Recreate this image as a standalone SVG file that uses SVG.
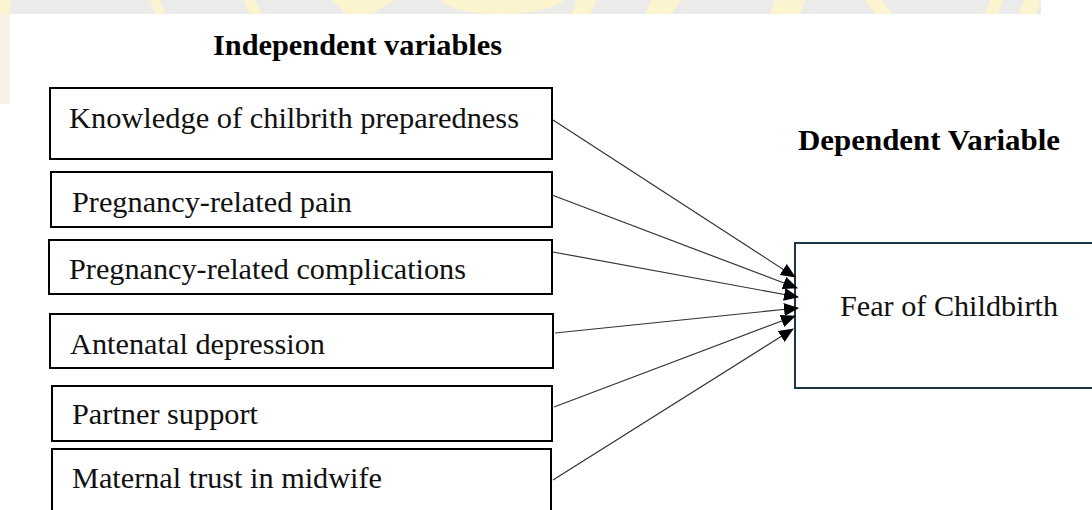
<svg xmlns="http://www.w3.org/2000/svg" width="1092" height="510" viewBox="0 0 1092 510">
<style>
.box{fill:#ffffff;stroke:#000000;stroke-width:2}
.dep{fill:#ffffff;stroke:#1e3545;stroke-width:2}
.t{font-family:'Liberation Serif','Times New Roman',Times,serif;font-size:30px;fill:#111111}
.h{font-family:'Liberation Serif','Times New Roman',Times,serif;font-size:29px;font-weight:bold;fill:#000000}
.c{stroke:#333333;stroke-width:1.2;fill:none;marker-end:url(#ah)}
.wm{fill:#fcf4cf}
</style>
<defs>
<marker id="ah" markerUnits="userSpaceOnUse" markerWidth="15" markerHeight="13" refX="14" refY="6.5" orient="auto">
<path d="M0,0 L15,6.5 L0,13 Z" fill="#000000"/>
</marker>
</defs>
<rect width="1092" height="510" fill="#ffffff"/>
<g id="watermark">
<rect x="0" y="0" width="1041" height="14" fill="#ebebea"/>
<rect x="0" y="14" width="10" height="90" fill="#f6f3e4"/>
<polygon class="wm" points="0,0 12,0 8,14 0,14"/>
<polygon class="wm" points="150,0 160,0 166,14 156,14"/>
<polygon class="wm" points="243,0 255,0 262,14 250,14"/>
<path class="wm" d="M330,0 L395,0 Q380,8 372,14 L345,14 Q340,6 330,0 Z"/>
<path class="wm" d="M440,0 L565,0 Q545,14 500,14 Q455,14 440,0 Z"/>
<polygon class="wm" points="577,0 597,0 590,14 572,14"/>
<polygon class="wm" points="651,0 681,0 672,14 645,14"/>
<polygon class="wm" points="775,0 805,0 800,14 770,14"/>
<polygon class="wm" points="865,0 882,0 892,14 875,14"/>
<polygon class="wm" points="990,0 1003,0 998,14 985,14"/>
<polygon class="wm" points="1024,0 1041,0 1036,14 1018,14"/>
</g>
<g id="title-independent">
<text class="h" font-family="Liberation Serif" x="213" y="55" textLength="289" lengthAdjust="spacingAndGlyphs">Independent variables</text>
</g>
<g id="title-dependent">
<text class="h" font-family="Liberation Serif" x="798" y="150" textLength="262" lengthAdjust="spacingAndGlyphs">Dependent Variable</text>
</g>
<g id="n1">
<rect class="box" x="50" y="88" width="502" height="71"/>
<text class="t" font-family="Liberation Serif" x="69" y="128" textLength="450" lengthAdjust="spacingAndGlyphs">Knowledge of chilbrith preparedness</text>
</g>
<g id="n2">
<rect class="box" x="51" y="172" width="501" height="55"/>
<text class="t" font-family="Liberation Serif" x="72" y="212" textLength="280" lengthAdjust="spacingAndGlyphs">Pregnancy-related pain</text>
</g>
<g id="n3">
<rect class="box" x="49" y="240" width="503" height="54"/>
<text class="t" font-family="Liberation Serif" x="69" y="279" textLength="397" lengthAdjust="spacingAndGlyphs">Pregnancy-related complications</text>
</g>
<g id="n4">
<rect class="box" x="50" y="314" width="503" height="54"/>
<text class="t" font-family="Liberation Serif" x="70" y="354" textLength="255" lengthAdjust="spacingAndGlyphs">Antenatal depression</text>
</g>
<g id="n5">
<rect class="box" x="52" y="386" width="500" height="55"/>
<text class="t" font-family="Liberation Serif" x="72" y="424" textLength="186" lengthAdjust="spacingAndGlyphs">Partner support</text>
</g>
<g id="n6">
<rect class="box" x="52" y="449" width="499" height="70"/>
<text class="t" font-family="Liberation Serif" x="72" y="488" textLength="310" lengthAdjust="spacingAndGlyphs">Maternal trust in midwife</text>
</g>
<g id="dependent">
<rect class="dep" x="795" y="243" width="310" height="145"/>
<text class="t" font-family="Liberation Serif" x="840" y="316" textLength="218" lengthAdjust="spacingAndGlyphs">Fear of Childbirth</text>
</g>
<g id="connectors">
<line class="c" x1="553" y1="120" x2="795" y2="277"/>
<line class="c" x1="552" y1="195" x2="797" y2="288"/>
<line class="c" x1="553" y1="252" x2="798" y2="297"/>
<line class="c" x1="555" y1="333" x2="798" y2="308"/>
<line class="c" x1="554" y1="407" x2="795" y2="316"/>
<line class="c" x1="553" y1="480" x2="793" y2="329"/>
</g>
</svg>
